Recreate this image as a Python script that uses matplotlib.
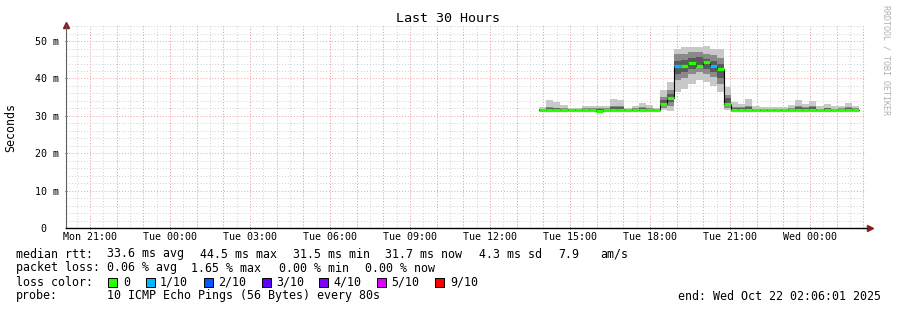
import numpy as np
import matplotlib.pyplot as plt
from matplotlib.patches import Rectangle

# hours since graph start (Mon 20:06), 16-minute consolidation steps
block_start = 17.74
block_step = 16 / 60

median = [31.6, 31.6, 31.5, 31.6, 31.5, 31.5, 31.6, 31.6, 31.4, 31.6,
          31.6, 31.6, 31.5, 31.6, 31.6, 31.6, 31.5, 33.3, 34.9, 43.4,
          43.2, 44.2, 43.3, 44.5, 43.2, 42.4, 33.2, 31.6, 31.5, 31.6,
          31.6, 31.5, 31.5, 31.6, 31.5, 31.6, 31.6, 31.5, 31.6, 31.6,
          31.6, 31.5, 31.6, 31.6, 31.6]
loss = [0, 0, 0, 0, 0, 0, 0, 0, 0, 0,
        0, 0, 0, 0, 0, 0, 0, 0, 0, 1,
        0, 0, 0, 0, 1, 0, 0, 0, 0, 0,
        0, 0, 0, 0, 0, 0, 0, 0, 0, 0,
        0, 0, 0, 0, 0]
smoke_min = [31.3, 31.3, 31.3, 31.3, 31.3, 31.3, 31.3, 31.3, 31.1, 31.3,
             31.3, 31.3, 31.3, 31.3, 31.3, 31.3, 31.3, 31.6, 31.4, 36.5,
             37.2, 38.5, 39.5, 39.0, 38.0, 36.5, 31.5, 31.3, 31.3, 31.3,
             31.3, 31.3, 31.3, 31.3, 31.3, 31.3, 31.3, 31.3, 31.3, 31.3,
             31.3, 31.3, 31.3, 31.3, 31.3]
smoke_lo = [31.4, 31.5, 31.5, 31.4, 31.4, 31.4, 31.5, 31.4, 31.3, 31.5,
            31.6, 31.5, 31.4, 31.5, 31.5, 31.5, 31.4, 32.2, 32.6, 39.5,
            40.2, 41.2, 41.6, 41.3, 40.3, 38.5, 32.2, 31.5, 31.4, 31.5,
            31.4, 31.4, 31.4, 31.4, 31.4, 31.5, 31.5, 31.4, 31.5, 31.4,
            31.5, 31.4, 31.5, 31.5, 31.5]
smoke_hi = [31.9, 32.4, 32.2, 32.0, 31.8, 31.8, 32.0, 32.0, 32.0, 32.1,
            32.6, 32.5, 31.8, 32.0, 32.3, 32.1, 31.8, 35.0, 37.0, 46.5,
            46.6, 47.0, 47.0, 46.6, 46.2, 45.5, 35.5, 32.3, 32.3, 32.6,
            31.9, 31.8, 31.8, 31.8, 31.8, 32.0, 32.5, 32.3, 32.6, 31.9,
            32.2, 31.9, 32.0, 32.3, 32.0]
smoke_max = [32.3, 34.2, 33.6, 32.9, 32.1, 32.1, 32.7, 32.5, 32.5, 32.7,
             34.5, 34.3, 32.1, 32.7, 33.5, 32.9, 32.1, 36.9, 39.1, 48.0,
             48.3, 48.5, 48.4, 48.6, 48.0, 48.0, 37.8, 33.6, 33.2, 34.5,
             32.6, 32.3, 32.3, 32.3, 32.3, 32.9, 34.2, 33.3, 34.0, 32.6,
             33.2, 32.6, 32.6, 33.5, 32.7]

loss_labels = ["0", "1/10", "2/10", "3/10", "4/10", "5/10", "9/10"]
loss_colors = ["#26ff00", "#00b8ff", "#0059ff", "#5e00ff", "#7e00ff", "#dd00ff", "#ff0000"]
loss_text_x = [123, 160, 218, 276, 333, 391, 450]
loss_box_x = [108, 146, 204, 262, 319, 377, 435]

tick_hours = [0.9, 3.9, 6.9, 9.9, 12.9, 15.9, 18.9, 21.9, 24.9, 27.9]
tick_labels = ["Mon 21:00", "Tue 00:00", "Tue 03:00", "Tue 06:00", "Tue 09:00",
               "Tue 12:00", "Tue 15:00", "Tue 18:00", "Tue 21:00", "Wed 00:00"]
y_ticks = [0, 10, 20, 30, 40, 50]
y_labels = ["0  ", "10 m", "20 m", "30 m", "40 m", "50 m"]

W, H = 897, 310
MONO = "DejaVu Sans Mono"


def fx(px):
    return px / W


def fy(py):
    return 1 - py / H


fig = plt.figure(figsize=(W / 100, H / 100), dpi=100)
fig.patch.set_facecolor("white")
ax = fig.add_axes([fx(66), fy(228), fx(866) - fx(66), fy(25) - fy(228)])
ax.set_xlim(0, 30)
ax.set_ylim(0, 54.3)

# grid
minor_x = np.arange(0.4, 30, 0.5)
major_x = np.arange(0.9, 30, 1.0)
for x in minor_x:
    ax.axvline(x, color="#d0d0d0", lw=0.7, ls=(0, (1, 2)), zorder=0)
for x in major_x:
    ax.axvline(x, color="#f4a0a0", lw=0.7, ls=(0, (1, 2)), zorder=0)
for y in np.arange(2, 54.3, 2):
    if y % 10:
        ax.axhline(y, color="#d0d0d0", lw=0.7, ls=(0, (1, 2)), zorder=0)
for y in y_ticks[1:]:
    ax.axhline(y, color="#f4a0a0", lw=0.7, ls=(0, (1, 2)), zorder=0)

# smoke
t = block_start + block_step * np.arange(len(median))
smin, slo, shi, smax = map(np.array, (smoke_min, smoke_lo, smoke_hi, smoke_max))
ax.bar(t, smax - smin, bottom=smin, width=block_step, align="edge",
       color="#c8c8c8", lw=0, zorder=2)
ax.bar(t, shi - slo, bottom=slo, width=block_step, align="edge",
       color="#8a8a8a", lw=0, zorder=3)
ax.bar(t, (shi - slo) * 0.5, bottom=slo + (shi - slo) * 0.25, width=block_step,
       align="edge", color="#5a5a5a", lw=0, zorder=3)

# median
edges = np.append(t, t[-1] + block_step)
ax.step(edges, median + [median[-1]], where="post", color="black", lw=0.8, zorder=4)
ax.hlines(median, t, t + block_step, colors=[loss_colors[i] for i in loss],
          lw=2.3, zorder=5)

# axes
for s in ("top", "right"):
    ax.spines[s].set_visible(False)
ax.spines["left"].set_color("#606060")
ax.spines["bottom"].set_color("black")
ax.spines["left"].set_linewidth(0.8)
ax.spines["bottom"].set_linewidth(1.0)
ax.set_xticks(tick_hours)
ax.set_xticklabels(tick_labels, fontfamily=MONO, fontsize=7.2)
ax.set_yticks(y_ticks)
ax.set_yticklabels(y_labels, fontfamily=MONO, fontsize=7.2)
ax.tick_params(axis="both", length=2, width=0.7, color="#a03030", direction="inout")
ax.tick_params(axis="x", pad=2)
ax.tick_params(axis="y", pad=4)
ax.plot([0], [1.0], marker="^", color="#8b1a1a", ms=4, transform=ax.transAxes, clip_on=False)
ax.plot([1.005], [0], marker=">", color="#8b1a1a", ms=4, transform=ax.transAxes, clip_on=False)

fig.text(fx(11), fy(127), "Seconds", rotation=90, ha="center", va="center",
         fontfamily=MONO, fontsize=8.4)
fig.text(fx(448), fy(19), "Last 30 Hours", ha="center", va="center",
         fontfamily=MONO, fontsize=9.6)
fig.text(fx(886), fy(5), "RRDTOOL / TOBI OETIKER", rotation=270, ha="center", va="top",
         fontfamily=MONO, fontsize=6, color="#b0b0b0")

# legend
leg = dict(fontfamily=MONO, fontsize=8.4, va="center")
rows = [
    (254, [(16, "median rtt:"), (107, "33.6 ms avg"), (200, "44.5 ms max"),
           (293, "31.5 ms min"), (385, "31.7 ms now"), (479, "4.3 ms sd"),
           (558, "7.9"), (600, "am/s")]),
    (268, [(16, "packet loss:"), (107, "0.06 % avg"), (191, "1.65 % max"),
           (279, "0.00 % min"), (365, "0.00 % now")]),
    (282, [(16, "loss color:")]),
    (296, [(16, "probe:"), (107, "10 ICMP Echo Pings (56 Bytes) every 80s")]),
]
for y, items in rows:
    for x, s in items:
        fig.text(fx(x), fy(y), s, **leg)
for bx, tx, lab, col in zip(loss_box_x, loss_text_x, loss_labels, loss_colors):
    fig.patches.append(Rectangle((fx(bx), fy(286.5)), fx(9), 9 / H, transform=fig.transFigure,
                                 facecolor=col, edgecolor="black", lw=0.7))
    fig.text(fx(tx), fy(282), lab, **leg)
fig.text(fx(881), fy(296), "end: Wed Oct 22 02:06:01 2025", ha="right", **leg)

fig.savefig("out.png", dpi=100)
